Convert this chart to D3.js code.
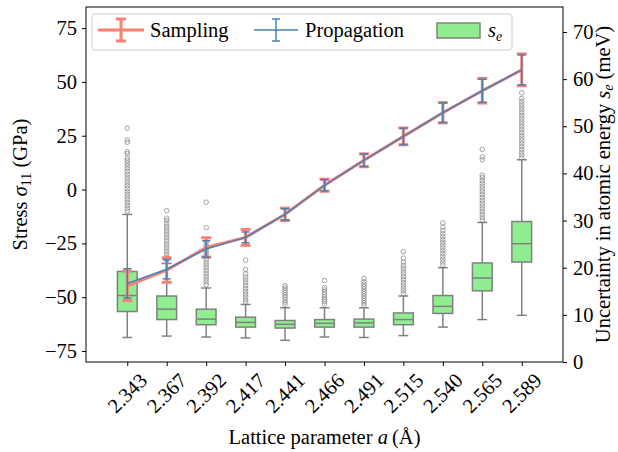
<!DOCTYPE html>
<html>
<head>
<meta charset="utf-8">
<script src="https://cdn.jsdelivr.net/npm/d3@7"></script>
<style>
  body { margin: 0; background: #fff; }
  svg { display: block; }
  text { font-family: "Liberation Serif", "Times New Roman", serif; fill: #000; }
</style>
</head>
<body>
<div id="viz"></div>
<script>
const W = 618;
const H = 452;
const margin = {top: 7, right: 55, bottom: 90, left: 86};

// categories (lattice parameter, Angstrom)
const cats = ['2.343', '2.367', '2.392', '2.417', '2.441', '2.466', '2.491', '2.515', '2.540', '2.565', '2.589'];

// stress series (GPa), mean and half error bar
const samplingMean = [-44.7, -37.4, -26.9, -22.2, -11.5, 2.0, 13.6, 24.7, 35.7, 45.9, 55.6];
const samplingErr = [6.9, 5.7, 4.5, 3.7, 2.9, 2.8, 3.0, 3.9, 4.7, 5.7, 7.4];
const propMean = [-43.6, -37.0, -27.6, -22.2, -11.5, 2.0, 13.6, 24.7, 35.7, 45.9, 55.6];
const propErr = [6.8, 4.5, 3.8, 2.5, 2.6, 2.6, 2.9, 3.8, 4.6, 5.4, 7.0];

// s_e box statistics (meV)
const whisLo = [5.2, 5.5, 5.3, 5.1, 4.6, 5.3, 5.2, 5.6, 7.4, 9.0, 9.9];
const boxQ1 = [10.7, 9.0, 7.9, 7.4, 7.2, 7.4, 7.4, 7.9, 10.3, 15.1, 21.2];
const boxMed = [14.1, 11.2, 9.1, 8.4, 8.0, 8.2, 8.3, 9.0, 11.8, 17.8, 25.1];
const boxQ3 = [19.2, 14.0, 11.2, 9.5, 8.8, 9.0, 9.1, 10.4, 14.1, 21.0, 29.8];
const whisHi = [31.3, 20.9, 15.7, 12.2, 11.5, 11.5, 11.5, 14.0, 20.0, 29.6, 42.9];

// outliers (meV) per box
const fliers = [
  [49.6, 47.1, 46.6, 44.6, 44.2, 43.3, 42.8, 42.2, 41.6, 41.0, 40.4, 39.8, 39.2, 38.6, 38.0, 37.4, 36.8, 36.2, 35.6, 35.0, 34.4, 33.8, 33.2, 32.6, 32.0],
  [32.1, 30.5, 30.0, 29.4, 28.8, 28.2, 27.6, 27.0, 26.4, 25.8, 25.2, 24.6, 24.0, 23.4, 22.8, 22.2, 21.6],
  [33.9, 28.5, 25.5, 24.8, 24.2, 23.6, 23.0, 22.4, 21.8, 21.2, 20.6, 20.0, 19.4, 18.8, 18.2, 17.6, 17.0, 16.4],
  [21.6, 19.6, 18.7, 18.0, 17.4, 16.8, 16.2, 15.6, 15.0, 14.4, 13.8, 13.2, 12.7],
  [16.2, 15.7, 15.2, 14.7, 14.2, 13.7, 13.2, 12.7, 12.2],
  [17.3, 15.8, 15.3, 14.8, 14.3, 13.8, 13.3, 12.8, 12.3],
  [17.7, 17.0, 16.5, 16.0, 15.5, 15.0, 14.5, 14.0, 13.5, 13.0, 12.5, 12.0],
  [23.4, 22.0, 21.2, 20.5, 19.9, 19.3, 18.7, 18.1, 17.5, 16.9, 16.3, 15.7, 15.1, 14.5],
  [29.5, 28.6, 27.9, 27.2, 26.6, 26.0, 25.4, 24.8, 24.2, 23.6, 23.0, 22.4, 21.8, 21.2, 20.6],
  [45.1, 43.5, 42.9, 39.6, 39.1, 38.5, 37.9, 37.3, 36.7, 36.1, 35.5, 34.9, 34.3, 33.7, 33.1, 32.5, 31.9, 31.3, 30.7, 30.1],
  [57.1, 55.9, 55.3, 54.7, 54.1, 53.5, 52.9, 52.3, 51.7, 51.1, 50.5, 49.9, 49.3, 48.7, 48.1, 47.5, 46.9, 46.3, 45.7, 45.1, 44.5, 43.9, 43.3]
];

const stressTicks = [-75, -50, -25, 0, 25, 50, 75];
const seTicks = [0, 10, 20, 30, 40, 50, 60, 70];

const samplingColor = '#fa8072';
const propColor = '#4682b4';
const boxFill = '#90ee90';
const boxEdge = '#808080';

const x0 = margin.left, x1 = W - margin.right, y0 = H - margin.bottom, y1 = margin.top;

const svg = d3.select('#viz')
  .append('svg')
  .attr('width', W)
  .attr('height', H);

// scales
const xScale = d3.scaleLinear().domain([-1.046, 11.046]).range([x0, x1]);
const yLeft = d3.scaleLinear().domain([-80.1, 84.8]).range([y0, y1]);
const yRight = d3.scaleLinear().domain([0, 75.3]).range([y0, y1]);

const fs = 20.5;
const fsSub = 14;

// boxes (right axis)
const boxW = xScale(0.25) - xScale(0);
const capW = xScale(0.125) - xScale(0);
const boxes = svg.append('g').selectAll('g').data(cats).join('g');

boxes.each(function(c, i) {
  const g = d3.select(this);
  const cx = xScale(i);
  g.append('line').attr('x1', cx).attr('x2', cx)
    .attr('y1', yRight(boxQ3[i])).attr('y2', yRight(whisHi[i]))
    .attr('stroke', boxEdge).attr('stroke-width', 1.5);
  g.append('line').attr('x1', cx).attr('x2', cx)
    .attr('y1', yRight(boxQ1[i])).attr('y2', yRight(whisLo[i]))
    .attr('stroke', boxEdge).attr('stroke-width', 1.5);
  [whisHi[i], whisLo[i]].forEach(v => {
    g.append('line').attr('x1', cx - capW).attr('x2', cx + capW)
      .attr('y1', yRight(v)).attr('y2', yRight(v))
      .attr('stroke', boxEdge).attr('stroke-width', 1.5);
  });
  g.append('rect')
    .attr('x', cx - boxW).attr('width', 2 * boxW)
    .attr('y', yRight(boxQ3[i])).attr('height', yRight(boxQ1[i]) - yRight(boxQ3[i]))
    .attr('fill', boxFill).attr('stroke', boxEdge).attr('stroke-width', 1.5);
  g.append('line').attr('x1', cx - boxW).attr('x2', cx + boxW)
    .attr('y1', yRight(boxMed[i])).attr('y2', yRight(boxMed[i]))
    .attr('stroke', boxEdge).attr('stroke-width', 1.5);
  g.selectAll('circle').data(fliers[i]).join('circle')
    .attr('cx', cx).attr('cy', d => yRight(d)).attr('r', 2.3)
    .attr('fill', 'none').attr('stroke', '#808080')
    .attr('stroke-opacity', 0.7).attr('stroke-width', 1);
});

// error bar series (left axis)
const drawSeries = (means, errs, color, lw, capHalf, capLw) => {
  const g = svg.append('g');
  g.append('path')
    .datum(means)
    .attr('d', d3.line().x((d, i) => xScale(i)).y(d => yLeft(d)))
    .attr('fill', 'none').attr('stroke', color).attr('stroke-width', lw);
  means.forEach((m, i) => {
    const cx = xScale(i);
    g.append('line').attr('x1', cx).attr('x2', cx)
      .attr('y1', yLeft(m - errs[i])).attr('y2', yLeft(m + errs[i]))
      .attr('stroke', color).attr('stroke-width', lw);
    [m - errs[i], m + errs[i]].forEach(v => {
      g.append('line').attr('x1', cx - capHalf).attr('x2', cx + capHalf)
        .attr('y1', yLeft(v)).attr('y2', yLeft(v))
        .attr('stroke', color).attr('stroke-width', capLw);
    });
  });
};
drawSeries(samplingMean, samplingErr, samplingColor, 3, 5, 3);
drawSeries(propMean, propErr, propColor, 1.5, 4, 1.5);

// frame
svg.append('rect').attr('x', x0).attr('y', y1)
  .attr('width', x1 - x0).attr('height', y0 - y1)
  .attr('fill', 'none').attr('stroke', '#000').attr('stroke-width', 1);

// axes
const axL = svg.append('g')
  .attr('transform', `translate(${x0},0)`)
  .call(d3.axisLeft(yLeft).tickValues(stressTicks).tickSize(4).tickPadding(5)
    .tickFormat(d => d < 0 ? '\u2212' + Math.abs(d) : d));
const axR = svg.append('g')
  .attr('transform', `translate(${x1},0)`)
  .call(d3.axisRight(yRight).tickValues(seTicks).tickSize(4).tickPadding(6));
const axB = svg.append('g')
  .attr('transform', `translate(0,${y0})`)
  .call(d3.axisBottom(xScale).tickValues(d3.range(cats.length)).tickSize(4).tickFormat(''));

[axL, axR, axB].forEach(a => {
  a.select('.domain').remove();
  a.selectAll('.tick line').attr('stroke', '#000');
  a.selectAll('.tick text').attr('font-size', fs);
});

// rotated x tick labels
svg.append('g').selectAll('text').data(cats).join('text')
  .attr('transform', (d, i) => `translate(${xScale(i)},${y0 + 31}) rotate(-45)`)
  .attr('text-anchor', 'middle')
  .attr('dominant-baseline', 'central')
  .attr('font-size', fs)
  .text(d => d);

// axis titles
svg.append('text')
  .attr('x', (x0 + x1) / 2).attr('y', 444)
  .attr('text-anchor', 'middle').attr('font-size', fs)
  .html('Lattice parameter <tspan font-style="italic">a</tspan>\u2009(\u00c5)');

svg.append('text')
  .attr('transform', `translate(27,${(y0 + y1) / 2}) rotate(-90)`)
  .attr('text-anchor', 'middle').attr('font-size', fs)
  .html(`Stress <tspan font-style="italic">\u03c3</tspan><tspan font-size="${fsSub}" dy="4">11</tspan><tspan dy="-4"> (GPa)</tspan>`);

svg.append('text')
  .attr('transform', `translate(610,${(y0 + y1) / 2}) rotate(-90)`)
  .attr('text-anchor', 'middle').attr('font-size', fs)
  .html(`Uncertainty in atomic energy <tspan font-style="italic">s</tspan><tspan font-style="italic" font-size="${fsSub}" dy="3">e</tspan><tspan dy="-3"> (meV)</tspan>`);

// legend
const leg = svg.append('g');
leg.append('rect')
  .attr('x', 92).attr('y', 14).attr('width', 420).attr('height', 36).attr('rx', 3)
  .attr('fill', '#fff').attr('fill-opacity', 0.8)
  .attr('stroke', '#d0d0d0').attr('stroke-width', 1);

const legY = 30;
const legErr = (xa, xb, color, lw, capHalf) => {
  const xm = (xa + xb) / 2;
  leg.append('line').attr('x1', xa).attr('x2', xb).attr('y1', legY).attr('y2', legY)
    .attr('stroke', color).attr('stroke-width', lw);
  leg.append('line').attr('x1', xm).attr('x2', xm).attr('y1', legY - 11).attr('y2', legY + 11)
    .attr('stroke', color).attr('stroke-width', lw);
  [legY - 11, legY + 11].forEach(v => {
    leg.append('line').attr('x1', xm - capHalf).attr('x2', xm + capHalf).attr('y1', v).attr('y2', v)
      .attr('stroke', color).attr('stroke-width', lw);
  });
};
legErr(98, 144, samplingColor, 3, 5);
leg.append('text').attr('x', 150).attr('y', legY + 7).attr('font-size', fs).text('Sampling');
legErr(254, 298, propColor, 1.5, 4);
leg.append('text').attr('x', 305).attr('y', legY + 7).attr('font-size', fs).text('Propagation');
leg.append('rect').attr('x', 437).attr('y', 23).attr('width', 43).attr('height', 15)
  .attr('fill', boxFill).attr('stroke', boxEdge).attr('stroke-width', 1.5);
leg.append('text').attr('x', 488).attr('y', legY + 7).attr('font-size', fs)
  .html(`<tspan font-style="italic">s</tspan><tspan font-style="italic" font-size="${fsSub}" dy="4">e</tspan>`);
</script>
</body>
</html>
